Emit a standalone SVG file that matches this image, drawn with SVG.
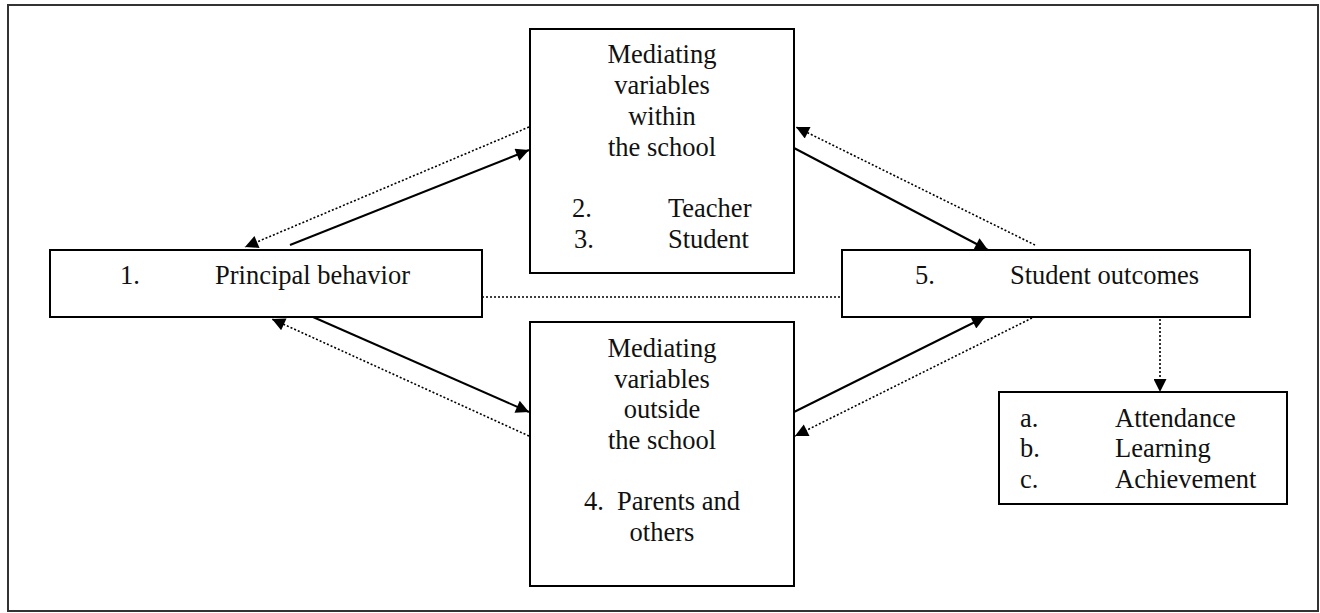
<svg xmlns="http://www.w3.org/2000/svg" width="1320" height="613" viewBox="0 0 1320 613">
<style>
.box{fill:#fff;stroke:#000;stroke-width:2}
.t{font-family:"Liberation Serif","Times New Roman",serif;font-size:26.5px;fill:#111}
.c{text-anchor:middle}
.solid{stroke:#000;stroke-width:2;fill:none}
.dot{stroke:#000;stroke-width:1.6;fill:none;stroke-dasharray:2 2}
</style>
<defs>
<marker id="ah" viewBox="0 0 10 10" refX="10" refY="5" markerWidth="16" markerHeight="13" markerUnits="userSpaceOnUse" orient="auto">
<path d="M0,0 L10,5 L0,10 z" fill="#000"/>
</marker>
</defs>
<rect x="8" y="5" width="1310" height="606" fill="#fff" stroke="#333" stroke-width="2"/>
<g id="connectors">
<line class="solid" x1="290" y1="245" x2="529" y2="150" marker-end="url(#ah)"/>
<line class="dot" x1="529" y1="127" x2="245" y2="247" marker-end="url(#ah)"/>
<line class="solid" x1="313" y1="317" x2="529" y2="412" marker-end="url(#ah)"/>
<line class="dot" x1="529" y1="436" x2="272" y2="319" marker-end="url(#ah)"/>
<line class="solid" x1="794" y1="148" x2="988" y2="250" marker-end="url(#ah)"/>
<line class="dot" x1="1035" y1="245" x2="796" y2="127" marker-end="url(#ah)"/>
<line class="solid" x1="794" y1="412" x2="985" y2="317" marker-end="url(#ah)"/>
<line class="dot" x1="1032" y1="318" x2="795" y2="436" marker-end="url(#ah)"/>
<line class="dot" x1="482" y1="297" x2="842" y2="297"/>
<line class="dot" x1="1160" y1="311" x2="1160" y2="392" marker-end="url(#ah)"/>
</g>
<g id="node1">
<rect class="box" x="50" y="250" width="432" height="67"/>
<text class="t" x="120" y="284">1.</text>
<text class="t" x="215" y="284">Principal behavior</text>
</g>
<g id="node2">
<rect class="box" x="530" y="29" width="264" height="244"/>
<text class="t c" x="662" y="63">Mediating</text>
<text class="t c" x="662" y="94">variables</text>
<text class="t c" x="662" y="125">within</text>
<text class="t c" x="662" y="156">the school</text>
<text class="t" x="572" y="217">2.</text>
<text class="t" x="668" y="217">Teacher</text>
<text class="t" x="574" y="248">3.</text>
<text class="t" x="668" y="248">Student</text>
</g>
<g id="node3">
<rect class="box" x="530" y="322" width="264" height="264"/>
<text class="t c" x="662" y="357">Mediating</text>
<text class="t c" x="662" y="388">variables</text>
<text class="t c" x="662" y="418">outside</text>
<text class="t c" x="662" y="449">the school</text>
<text class="t c" x="662" y="510" xml:space="preserve">4.  Parents and</text>
<text class="t c" x="662" y="541">others</text>
</g>
<g id="node5">
<rect class="box" x="842" y="250" width="408" height="67"/>
<text class="t" x="915" y="284">5.</text>
<text class="t" x="1010" y="284">Student outcomes</text>
</g>
<g id="outcomes">
<rect class="box" x="999" y="392" width="288" height="112"/>
<text class="t" x="1020" y="427">a.</text>
<text class="t" x="1115" y="427">Attendance</text>
<text class="t" x="1020" y="457">b.</text>
<text class="t" x="1115" y="457">Learning</text>
<text class="t" x="1020" y="488">c.</text>
<text class="t" x="1115" y="488">Achievement</text>
</g>
</svg>
